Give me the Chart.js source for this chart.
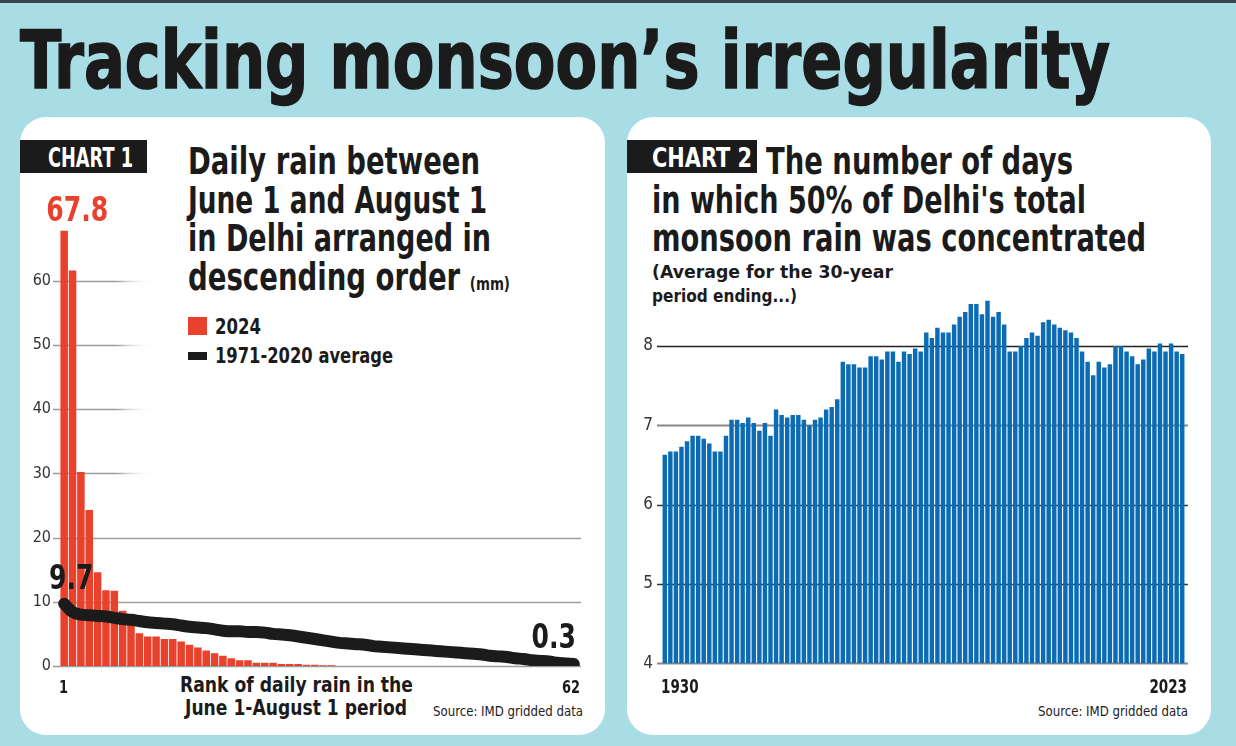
<!DOCTYPE html>
<html>
<head>
<meta charset="utf-8">
<script src="https://cdn.jsdelivr.net/npm/chart.js@4.4.1/dist/chart.umd.min.js"></script>
<style>
  body { margin: 0; width: 1236px; height: 746px; background: #a9dde6; position: relative; overflow: hidden;
         font-family: "Liberation Sans Narrow", "DejaVu Sans Condensed", "Roboto Condensed", "Liberation Sans", sans-serif; color: #1b1b1b; }
  .topbar { position: absolute; left: 0; top: 0; width: 1236px; height: 3px; background: #36464c; }
  .panel { position: absolute; top: 117px; width: 585px; height: 618px; background: #fff; border-radius: 26px; }
  .t { position: absolute; white-space: nowrap; line-height: 1; font-weight: bold; transform-origin: 0 0; }
  .tag { position: absolute; top: 140px; height: 33px; background: #1b1b1b; }
  .src { font-weight: normal; font-size: 14px; color: #222; }
  canvas { position: absolute; }
</style>
</head>
<body>
<div class="topbar"></div>
<div class="t" style="left:20px; top:20px; font-size:81px; -webkit-text-stroke:1.5px #1b1b1b;" data-w="1090">Tracking monsoon’s irregularity</div>

<div class="panel" style="left:20px;"></div>
<div class="panel" style="left:627px; width:584px;"></div>

<!-- chart 1 header -->
<div class="tag" style="left:20px; width:127px;"></div>
<div class="t" style="left:48px; top:145px; font-size:26px; color:#fff;" data-w="85">CHART 1</div>
<div class="t" style="left:188px; top:143px; font-size:37px;" data-w="292">Daily rain between</div>
<div class="t" style="left:188px; top:182px; font-size:37px;" data-w="299">June 1 and August 1</div>
<div class="t" style="left:188px; top:220px; font-size:37px;" data-w="303">in Delhi arranged in</div>
<div class="t" style="left:188px; top:259px; font-size:37px;" data-w="322">descending order <span style="font-size:18px;">(mm)</span></div>
<div style="position:absolute; left:188px; top:317px; width:19px; height:18px; background:#e8412c;"></div>
<div class="t" style="left:215px; top:317px; font-size:21px;" data-w="46">2024</div>
<div style="position:absolute; left:188px; top:352px; width:19px; height:8px; background:#1b1b1b;"></div>
<div class="t" style="left:215px; top:346px; font-size:21px;" data-w="178">1971-2020 average</div>
<div class="t" style="left:180px; top:675px; font-size:21px;" data-w="233">Rank of daily rain in the</div>
<div class="t" style="left:185px; top:698px; font-size:21px;" data-w="222">June 1-August 1 period</div>
<div class="t src" style="left:433px; top:704px;" data-w="150">Source: IMD gridded data</div>

<!-- chart 2 header -->
<div class="tag" style="left:627px; width:130px;"></div>
<div class="t" style="left:652px; top:145px; font-size:26px; color:#fff;" data-w="100">CHART 2</div>
<div class="t" style="left:766px; top:143px; font-size:37px;" data-w="307">The number of days</div>
<div class="t" style="left:652px; top:182px; font-size:37px;" data-w="434">in which 50% of Delhi's total</div>
<div class="t" style="left:652px; top:220px; font-size:37px;" data-w="494">monsoon rain was concentrated</div>
<div class="t" style="left:652px; top:263px; font-size:18px;" data-w="241">(Average for the 30-year</div>
<div class="t" style="left:652px; top:287px; font-size:18px;" data-w="145">period ending...)</div>
<div class="t src" style="left:1038px; top:704px;" data-w="150">Source: IMD gridded data</div>

<canvas id="chart1" width="585" height="618" style="left:20px; top:117px;"></canvas>
<canvas id="chart2" width="584" height="618" style="left:627px; top:117px;"></canvas>

<script>
// chart 1: daily rain, 1 June - 1 August, ranked
var ranks = Array.from({ length: 62 }, function (_, i) { return String(i + 1); });
var rain2024 = [67.8, 61.6, 30.2, 24.3, 14.6, 11.8, 11.7, 8.6, 7.4, 5.1,
                4.6, 4.6, 4.2, 4.2, 3.8, 3.3, 2.9, 2.4, 2.0, 1.6,
                1.2, 0.9, 0.9, 0.5, 0.5, 0.5, 0.3, 0.3, 0.3, 0.2,
                0.2, 0.1, 0.1, 0, 0, 0, 0, 0, 0, 0,
                0, 0, 0, 0, 0, 0, 0, 0, 0, 0,
                0, 0, 0, 0, 0, 0, 0, 0, 0, 0,
                0, 0];
var rainAvg = [9.7, 8.4, 8.0, 7.9, 7.8, 7.7, 7.5, 7.3, 7.2, 7.0,
               6.8, 6.7, 6.6, 6.5, 6.3, 6.1, 6.0, 5.9, 5.7, 5.5,
               5.4, 5.4, 5.3, 5.3, 5.2, 5.0, 4.9, 4.8, 4.6, 4.4,
               4.2, 4.0, 3.8, 3.6, 3.5, 3.4, 3.3, 3.1, 3.0, 2.9,
               2.8, 2.7, 2.6, 2.5, 2.4, 2.3, 2.2, 2.1, 2.0, 1.9,
               1.8, 1.6, 1.5, 1.4, 1.2, 1.1, 0.9, 0.8, 0.7, 0.5,
               0.4, 0.3];
var yTicks1 = [0, 10, 20, 30, 40, 50, 60];

// chart 2: days holding 50% of monsoon rain, 30-year average ending in each year
var years = Array.from({ length: 94 }, function (_, i) { return String(1930 + i); });
var days50 = [6.63, 6.67, 6.67, 6.73, 6.80, 6.87, 6.87, 6.83, 6.77, 6.67,
              6.67, 6.87, 7.07, 7.07, 7.03, 7.10, 7.03, 6.93, 7.03, 6.87,
              7.20, 7.13, 7.10, 7.13, 7.13, 7.07, 7.00, 7.07, 7.10, 7.20,
              7.23, 7.33, 7.80, 7.77, 7.77, 7.73, 7.73, 7.87, 7.87, 7.83,
              7.93, 7.93, 7.80, 7.93, 7.90, 7.97, 7.93, 8.17, 8.10, 8.23,
              8.17, 8.17, 8.27, 8.37, 8.43, 8.53, 8.53, 8.40, 8.57, 8.37,
              8.43, 8.27, 7.93, 7.93, 8.00, 8.10, 8.17, 8.13, 8.30, 8.33,
              8.27, 8.23, 8.20, 8.17, 8.10, 7.93, 7.80, 7.63, 7.80, 7.73,
              7.77, 8.00, 8.00, 7.93, 7.87, 7.77, 7.83, 7.97, 7.93, 8.03,
              7.93, 8.03, 7.93, 7.90];
var yTicks2 = [4, 5, 6, 7, 8];

var SANS = '"Liberation Sans Narrow", "DejaVu Sans Condensed", "Roboto Condensed", "Liberation Sans", sans-serif';
Chart.defaults.font.family = SANS;

// text squeezed sideways, the print font is narrower than anything installed
function narrowText(ctx, text, x, y, align, sx) {
  ctx.save();
  ctx.translate(x, y);
  ctx.scale(sx, 1);
  ctx.textAlign = align;
  ctx.fillText(text, 0, 0);
  ctx.restore();
}

// horizontal lines drawn under the bars
function gridPlugin(lines) {
  return {
    id: 'customGrid',
    beforeDatasetsDraw: function (chart) {
      var ctx = chart.ctx, a = chart.chartArea, y = chart.scales.y;
      ctx.save();
      lines.forEach(function (l) {
        var py = Math.round(y.getPixelForValue(l.value)) + 0.5;
        var x0 = a.left + l.from;
        var x1 = l.to == null ? a.right + 3 : a.left + l.to;
        if (l.fade) {
          var g = ctx.createLinearGradient(x1 - 40, 0, x1, 0);
          g.addColorStop(0, l.color);
          g.addColorStop(1, 'rgba(255,255,255,0)');
          ctx.strokeStyle = g;
        } else {
          ctx.strokeStyle = l.color;
        }
        ctx.lineWidth = l.width;
        ctx.beginPath();
        ctx.moveTo(x0, py);
        ctx.lineTo(x1, py);
        ctx.stroke();
      });
      ctx.restore();
    }
  };
}

// first and last category under the axis, flush with the outer bars
function edgeLabelPlugin(font, dy, sx) {
  return {
    id: 'edgeLabels',
    afterDraw: function (chart) {
      var ctx = chart.ctx, a = chart.chartArea, x = chart.scales.x;
      var labels = chart.data.labels, n = labels.length;
      var half = (x.getPixelForValue(1) - x.getPixelForValue(0)) / 2;
      ctx.save();
      ctx.font = font;
      ctx.fillStyle = '#1b1b1b';
      narrowText(ctx, labels[0], x.getPixelForValue(0) - half - 1, a.bottom + dy, 'left', sx);
      narrowText(ctx, labels[n - 1], x.getPixelForValue(n - 1) + half + 2, a.bottom + dy, 'right', sx);
      ctx.restore();
    }
  };
}

// big value callouts next to chosen points
function calloutPlugin(items) {
  return {
    id: 'callouts',
    afterDatasetsDraw: function (chart) {
      var ctx = chart.ctx;
      ctx.save();
      ctx.font = 'bold 34px ' + SANS;
      items.forEach(function (it) {
        var el = chart.getDatasetMeta(it.ds).data[it.index];
        var v = chart.data.datasets[it.ds].data[it.index];
        ctx.fillStyle = it.color;
        narrowText(ctx, v.toFixed(1), el.x + it.dx, el.y + it.dy, 'center', 0.82);
      });
      ctx.restore();
    }
  };
}

var grid1 = gridPlugin([
  { value: 60, from: -7, to: 95, fade: true, color: '#9a9a9a', width: 1.5 },
  { value: 50, from: -7, to: 95, fade: true, color: '#9a9a9a', width: 1.5 },
  { value: 40, from: -7, to: 95, fade: true, color: '#9a9a9a', width: 1.5 },
  { value: 30, from: -7, to: 95, fade: true, color: '#9a9a9a', width: 1.5 },
  { value: 20, from: -7, color: '#a0a0a0', width: 1.5 },
  { value: 10, from: -7, color: '#a0a0a0', width: 1.5 },
  { value: 0, from: -7, color: '#9a9a9a', width: 1.5 }
]);

new Chart(document.getElementById('chart1'), {
  type: 'bar',
  data: {
    labels: ranks,
    datasets: [
      {
        type: 'line', label: '1971-2020 average', data: rainAvg,
        borderColor: '#1b1b1b', borderWidth: 12, pointRadius: 0,
        borderCapStyle: 'round', borderJoinStyle: 'round',
        cubicInterpolationMode: 'monotone', order: 0
      },
      {
        label: '2024', data: rain2024, backgroundColor: '#e8412c',
        barPercentage: 0.9, categoryPercentage: 1, order: 1
      }
    ]
  },
  options: {
    responsive: false,
    animation: false,
    layout: { padding: { left: 0, right: 27, top: 99.5, bottom: 0 } },
    plugins: { legend: { display: false }, tooltip: { enabled: false } },
    scales: {
      x: {
        grid: { display: false, drawTicks: false }, border: { display: false },
        ticks: { display: false },
        afterFit: function (s) { s.height = 69; }
      },
      y: {
        min: 0, max: 70,
        grid: { display: false, drawTicks: false }, border: { display: false },
        ticks: { padding: 9, color: '#333', font: { size: 16 } },
        afterBuildTicks: function (s) { s.ticks = yTicks1.map(function (v) { return { value: v }; }); },
        afterFit: function (s) { s.width = 40; }
      }
    }
  },
  plugins: [grid1, edgeLabelPlugin('bold 17px ' + SANS, 27, 0.85), calloutPlugin([
    { ds: 1, index: 0, color: '#e8412c', dx: 13, dy: -10 },
    { ds: 0, index: 0, color: '#1b1b1b', dx: 7, dy: -15 },
    { ds: 0, index: 61, color: '#1b1b1b', dx: -20, dy: -16 }
  ])]
});

var grid2 = gridPlugin([
  { value: 8, from: -5, color: '#222', width: 1.5 },
  { value: 7, from: -5, color: '#888', width: 1.8 },
  { value: 6, from: -5, color: '#333', width: 1.3 },
  { value: 5, from: -5, color: '#333', width: 1.3 },
  { value: 4, from: -5, color: '#888', width: 1.8 }
]);

new Chart(document.getElementById('chart2'), {
  type: 'bar',
  data: {
    labels: years,
    datasets: [{
      label: 'Days', data: days50, backgroundColor: '#0b6cb5',
      barPercentage: 0.8, categoryPercentage: 1
    }]
  },
  options: {
    responsive: false,
    animation: false,
    layout: { padding: { left: 0, right: 26, top: 181.4, bottom: 0 } },
    plugins: { legend: { display: false }, tooltip: { enabled: false } },
    scales: {
      x: {
        grid: { display: false, drawTicks: false }, border: { display: false },
        ticks: { display: false },
        afterFit: function (s) { s.height = 71.7; }
      },
      y: {
        min: 4, max: 8.6,
        grid: { display: false, drawTicks: false }, border: { display: false },
        ticks: { padding: 9, color: '#333', font: { size: 17 } },
        afterBuildTicks: function (s) { s.ticks = yTicks2.map(function (v) { return { value: v }; }); },
        afterFit: function (s) { s.width = 35; }
      }
    }
  },
  plugins: [grid2, edgeLabelPlugin('bold 20px ' + SANS, 30, 0.75)]
});

// squeeze each heading line to the width it has in the print layout
document.querySelectorAll('[data-w]').forEach(function (el) {
  var w = el.getBoundingClientRect().width;
  el.style.transform = 'scaleX(' + (parseFloat(el.dataset.w) / w) + ')';
});
</script>
</body>
</html>
